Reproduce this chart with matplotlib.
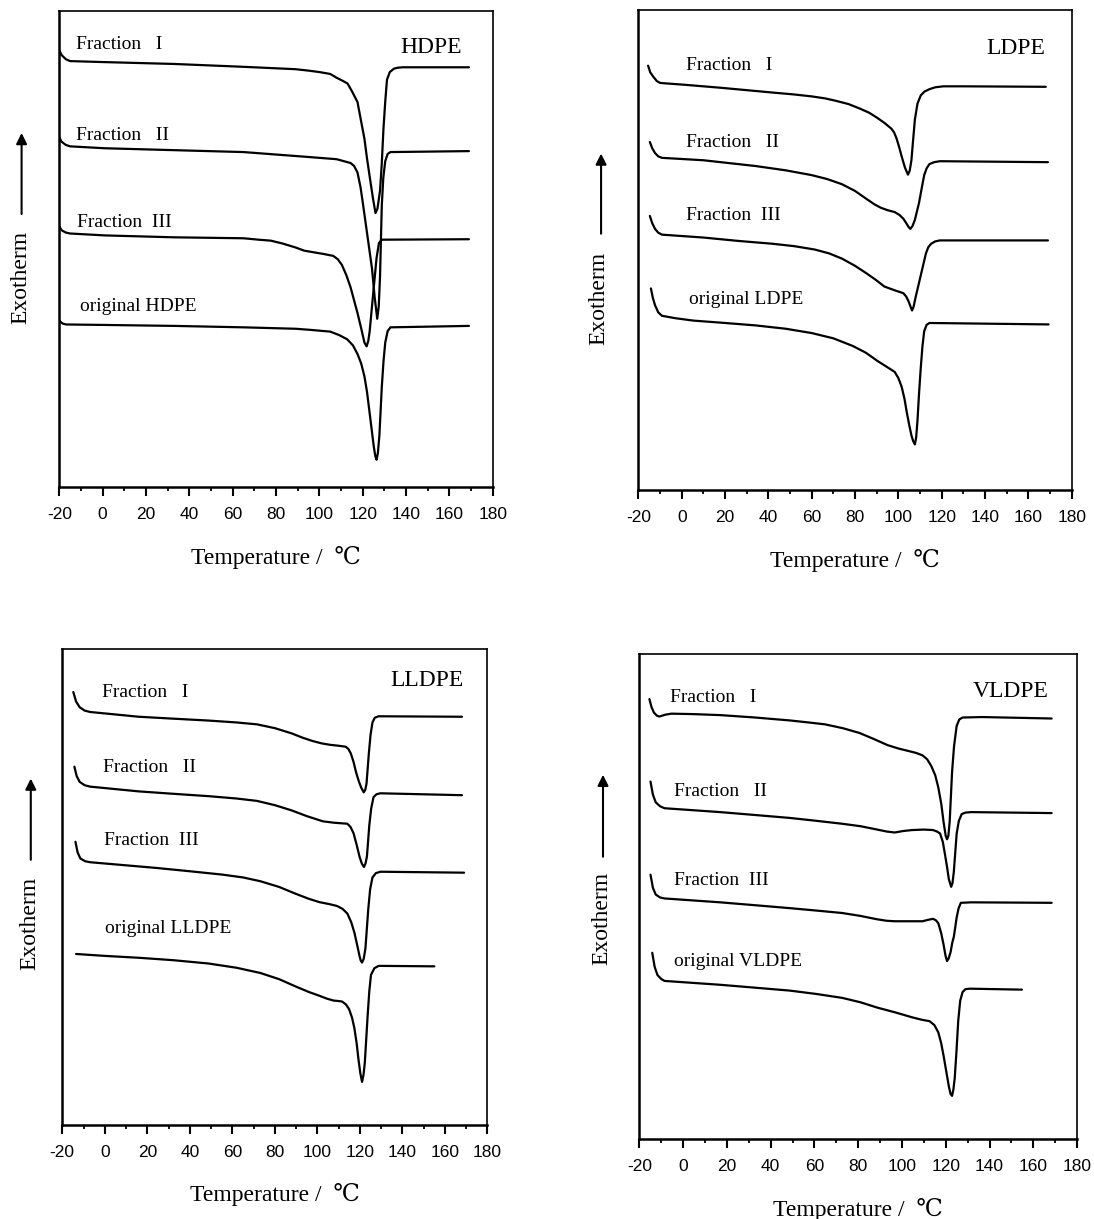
import matplotlib
matplotlib.use("Agg")
import matplotlib.pyplot as plt
from matplotlib.ticker import MultipleLocator

plt.rcParams['font.family'] = ['Liberation Serif', 'DejaVu Serif']
plt.rcParams['axes.unicode_minus'] = False

# ---- data (temperature in C, heat flow in a.u., 0-100) ----
# HDPE
hdpe_f1_t = [-20, -19, -17, -15, 0, 33, 65, 89, 95, 100, 105, 108, 111, 113, 115, 117.6, 119, 120.8, 122, 123.7,
             124.8, 125.9, 126.8, 128, 128.8, 129.6, 130.4, 131.2, 132.5, 134.4, 136, 138.4, 169]
hdpe_f1_y = [91.8, 90.8, 89.9, 89.5, 89.3, 88.9, 88.3, 87.8, 87.5, 87.2, 86.8, 86.0, 85.3, 84.8, 83.2, 80.9, 77.5, 73.2, 69.0, 63.8,
             60.5, 57.6, 58.5, 62.3, 68.0, 75.5, 81.0, 85.6, 87.2, 87.9, 88.1, 88.2, 88.2]
hdpe_f2_t = [-20, -19, -17, -15, 1, 33, 65, 94, 108, 114.4, 116, 117.6, 119, 120, 122.4, 124.3, 125.5, 126.7, 127.4,
             128, 128.8, 129.5, 130.4, 131.5, 132.8, 169]
hdpe_f2_y = [73.5, 72.6, 71.9, 71.6, 71.2, 70.8, 70.4, 69.4, 68.9, 68.1, 67.5, 66.1, 63.0, 59.9, 52.1, 45.9, 40.0, 35.4, 38.0,
             44.4, 59.1, 65.0, 68.5, 70.0, 70.4, 70.6]
hdpe_f3_t = [-20, -19, -17, -15, 1, 33, 65, 72, 77.6, 83, 88.8, 93, 96.8, 102, 106.4, 108.5, 110.4, 112.5, 114.4, 117.6,
             119.5, 120.8, 121.8, 122.6, 123.2, 124.8, 126.4, 127.5, 128.8, 169]
hdpe_f3_y = [54.9, 54.0, 53.5, 53.3, 52.9, 52.5, 52.3, 52.0, 51.8, 51.2, 50.4, 49.7, 49.4, 49.0, 48.6, 47.9, 46.7, 44.5, 42.0, 36.6,
             33.0, 30.4, 29.6, 30.8, 32.7, 40.5, 48.2, 51.3, 52.0, 52.1]
hdpe_or_t = [-20, -18.5, -16.8, 1, 33, 65, 89, 95, 100, 105, 109, 112.8, 115.5, 117.6, 119.3, 120.8, 122, 123.2, 125.1,
             125.8, 126.4, 127, 127.7, 128.8, 129.6, 130.4, 131.5, 132.8, 169]
hdpe_or_y = [35.0, 34.4, 34.2, 34.1, 33.9, 33.6, 33.3, 33.1, 32.9, 32.7, 32.0, 31.1, 29.8, 28.0, 26.0, 23.3, 20.0, 15.6, 8.6,
             6.6, 5.8, 7.2, 10.9, 21.0, 26.5, 30.4, 32.8, 33.6, 33.9]

# LDPE
ldpe_f1_t = [-15.5, -14.5, -13.1, -11.5, -9.9, 2, 18, 30, 42, 52, 60, 66, 71, 77, 82, 86.5, 90, 93.5, 96.7, 98, 99.1,
             100.3, 101.5, 103, 104.4, 105.2, 106, 106.8, 107.6, 108.8, 110.3, 112, 114.3, 117, 120.7, 130, 168]
ldpe_f1_y = [88.4, 87.0, 86.1, 85.2, 84.8, 84.4, 83.8, 83.3, 82.8, 82.4, 82.0, 81.6, 81.1, 80.4, 79.5, 78.6, 77.6, 76.5, 75.3, 74.5, 73.3,
             71.5, 69.5, 67.2, 65.7, 66.5, 68.7, 73.0, 77.2, 80.5, 82.2, 83.0, 83.5, 83.9, 84.1, 84.1, 84.0]
ldpe_f2_t = [-14.7, -13.6, -12.3, -10.8, -9.1, 10, 22, 34, 48, 60, 67, 74, 80, 85.4, 89, 91.9, 95, 98.3, 100.5, 102.3,
             103.6, 104.7, 105.5, 106.5, 107.6, 109.5, 110.8, 111.9, 113, 114.3, 116.5, 119.1, 169]
ldpe_f2_y = [72.5, 71.2, 70.2, 69.5, 69.2, 68.7, 68.1, 67.5, 66.6, 65.6, 64.8, 63.7, 62.3, 60.6, 59.5, 58.8, 58.3, 57.9, 57.3, 56.5,
             55.6, 54.8, 54.4, 55.0, 56.3, 59.8, 63.0, 65.6, 67.0, 67.9, 68.3, 68.5, 68.3]
ldpe_f3_t = [-14.7, -13.6, -12.3, -10.8, -9.1, 10, 26, 42, 52, 61.4, 68, 74, 80, 85.4, 89.5, 93.5, 96.5, 99, 101, 102.3,
             103.6, 104.7, 105.6, 106.3, 107, 107.9, 110.3, 112.7, 113.8, 115.1, 117, 119.1, 169]
ldpe_f3_y = [57.1, 55.6, 54.4, 53.6, 53.2, 52.6, 51.9, 51.3, 50.8, 50.1, 49.3, 48.2, 46.7, 45.1, 43.8, 42.4, 41.9, 41.5, 41.2, 41.0,
             40.3, 39.3, 38.2, 37.4, 38.2, 40.1, 44.7, 49.3, 50.6, 51.3, 51.8, 52.0, 52.0]
ldpe_or_t = [-14.2, -13.3, -12.3, -10.8, -9.1, -3, 5.3, 20, 34, 48, 60, 70, 79, 85, 90.3, 94.5, 98.3, 100, 101.5, 102.8,
             103.9, 105, 106, 106.8, 107.6, 108.2, 108.8, 109.5, 110.3, 111.1, 111.9, 113, 114.3, 169.3]
ldpe_or_y = [42.0, 40.0, 38.5, 37.0, 36.3, 35.8, 35.3, 34.8, 34.3, 33.6, 32.7, 31.6, 30.0, 28.6, 26.9, 25.7, 24.6, 23.3, 21.5, 19.0,
             16.1, 13.5, 11.4, 10.2, 9.5, 11.0, 14.5, 20.0, 25.4, 30.0, 33.1, 34.4, 34.8, 34.5]

# LLDPE
lldpe_f1_t = [-14.8, -13.5, -11.8, -9.5, -6.9, 16, 32, 48.7, 62, 71.6, 80, 87.9, 93, 97.7, 102, 105.9, 110, 113.3, 114.6,
              115.7, 117, 118.2, 119.5, 120.6, 121.8, 122.5, 123.1, 124.2, 125, 125.9, 127, 128.8, 168]
lldpe_f1_y = [91.0, 89.0, 87.8, 87.1, 86.8, 85.8, 85.4, 85.0, 84.6, 84.2, 83.4, 82.3, 81.4, 80.7, 80.2, 79.9, 79.7, 79.5, 79.0,
              78.1, 76.3, 74.1, 72.2, 70.9, 69.9, 70.4, 71.7, 78.1, 82.0, 84.6, 85.6, 85.9, 85.8]
lldpe_f2_t = [-14.3, -13.2, -11.8, -9.5, -6.9, 16, 32, 48.7, 62, 71.6, 80, 87.9, 95, 102.6, 108, 114.1, 115.6, 117, 118.5,
              119.8, 120.9, 121.9, 122.6, 123.3, 124.4, 125.3, 126.4, 127.8, 129.6, 168]
lldpe_f2_y = [75.3, 73.3, 72.1, 71.4, 71.1, 70.1, 69.6, 69.1, 68.6, 68.1, 67.2, 66.1, 64.9, 63.8, 63.5, 63.3, 62.6, 61.3, 58.8,
              56.4, 54.9, 54.2, 54.9, 56.4, 62.9, 66.5, 68.9, 69.5, 69.7, 69.3]
lldpe_f3_t = [-13.8, -12.8, -11.5, -9.2, -6.9, 24.2, 40, 55.2, 65, 73.2, 82, 89.6, 96, 101, 105.5, 109.2, 111.8, 114.1,
              115.9, 117.4, 118.7, 119.8, 120.4, 121, 121.8, 122.6, 123.9, 124.8, 125.9, 127.5, 129.6, 169]
lldpe_f3_y = [59.5, 57.3, 56.0, 55.4, 55.2, 54.0, 53.3, 52.6, 52.0, 51.2, 50.0, 48.6, 47.5, 46.8, 46.4, 46.0, 45.4, 44.4,
              42.6, 40.4, 37.8, 35.5, 34.5, 34.1, 34.9, 37.1, 45.2, 49.5, 52.0, 52.9, 53.2, 53.0]
lldpe_or_t = [-13.5, 0, 16, 32, 48.7, 62, 73.2, 82, 89.6, 96, 101, 104.5, 107.6, 110, 111.6, 113.4, 114.9, 116.3, 117.4,
              118.5, 119.3, 120.2, 121, 121.7, 122.3, 123.6, 124.4, 125.2, 126.8, 128.8, 155]
lldpe_or_y = [35.9, 35.5, 35.1, 34.6, 33.9, 33.0, 31.9, 30.6, 29.1, 27.9, 27.1, 26.5, 26.1, 26.0, 25.9, 25.3, 24.3, 22.5, 20.3,
              17.0, 13.8, 10.8, 9.0, 10.5, 13.0, 22.7, 28.0, 31.5, 32.9, 33.4, 33.3]

# VLDPE
vldpe_f1_t = [-15.4, -14.4, -13.3, -12, -10.9, -8, -5.3, 5, 17, 33, 48.8, 57, 64.8, 73, 80.7, 87, 93.5, 98.5, 103, 106.5,
              109.4, 111.5, 113.4, 115.2, 116.6, 118, 119, 120, 120.6, 121.2, 121.8, 122.9, 123.8, 125, 126.2, 127.7, 136.5, 168.4]
vldpe_f1_y = [90.7, 89.0, 87.9, 87.3, 87.1, 87.5, 87.7, 87.6, 87.4, 86.9, 86.3, 85.9, 85.5, 84.7, 83.7, 82.5, 81.2, 80.5, 80.0, 79.6,
              79.1, 78.3, 76.9, 75.0, 72.5, 69.0, 65.4, 62.5, 61.8, 62.5, 65.4, 75.7, 81.0, 85.2, 86.5, 86.9, 87.0, 86.7]
vldpe_f2_t = [-14.9, -13.8, -12.5, -10.5, -8.5, 17, 33, 48.8, 61, 72.7, 81, 88.7, 93, 96.7, 100.5, 104.6, 110, 114.2, 116,
              117.4, 118.7, 119.8, 120.7, 121.4, 122.5, 123.1, 123.7, 125, 126, 127.3, 129, 131.7, 168.4]
vldpe_f2_y = [73.7, 71.0, 69.4, 68.6, 68.2, 67.4, 66.8, 66.2, 65.6, 65.0, 64.5, 63.8, 63.4, 63.2, 63.5, 63.7, 63.8, 63.7, 63.4,
              63.0, 61.2, 58.3, 55.8, 53.6, 52.0, 52.8, 55.1, 63.0, 65.6, 67.0, 67.3, 67.4, 67.2]
vldpe_f3_t = [-14.9, -13.8, -12.5, -10.5, -8.5, 17, 33, 48.8, 61, 72.7, 81, 88.7, 93, 96.7, 103, 109.4, 112, 114.2, 115.5,
              116.6, 117.9, 119, 119.9, 120.6, 121.3, 122.2, 123, 123.7, 124.3, 125, 125.9, 126.9, 131.7, 168.4]
vldpe_f3_y = [54.5, 51.8, 50.4, 49.8, 49.6, 48.8, 48.2, 47.6, 47.1, 46.6, 46.0, 45.3, 45.0, 44.9, 44.9, 44.9, 45.2, 45.4, 45.1,
              44.5, 42.5, 40.1, 37.8, 36.7, 37.2, 38.5, 40.5, 41.7, 43.5, 45.7, 47.6, 48.7, 48.8, 48.7]
vldpe_or_t = [-14.1, -13, -11.7, -10, -8.5, 17, 33, 48.8, 61, 72.7, 81, 88.7, 97, 104.6, 109, 112.6, 114.8, 116.6, 117.9,
              119, 120.3, 121.4, 122.2, 122.9, 123.5, 124.1, 124.9, 125.7, 126.6, 127.7, 129, 130.9, 154.8]
vldpe_or_y = [38.4, 35.5, 33.8, 33.0, 32.6, 31.8, 31.2, 30.6, 29.9, 29.1, 28.2, 27.1, 26.1, 25.1, 24.6, 24.3, 23.5, 22.0, 19.8,
              17.2, 13.8, 10.9, 9.3, 8.9, 10.2, 12.5, 18.0, 24.3, 28.5, 30.3, 30.9, 31.0, 30.8]

fraction_names = ["Fraction   I", "Fraction   II", "Fraction  III"]
xticks = list(range(-20, 181, 20))
xticklabels = [str(v) for v in xticks]

# caption anchor positions (x in C, y in a.u.)
hdpe_lab = [(-12.3, 93.0), (-12.3, 73.8), (-11.6, 55.7), (-10.3, 38.0)]
ldpe_lab = [(1.8, 88.4), (1.8, 72.3), (2.1, 57.1), (3.4, 39.7)]
lldpe_lab = [(-1.2, 91.0), (-0.9, 75.1), (-0.4, 59.8), (0.0, 41.2)]
vldpe_lab = [(-6.1, 91.1), (-4.1, 71.6), (-4.1, 53.2), (-4.1, 36.6)]

panels = [
    dict(name="HDPE", rect=[0.0542, 0.6002, 0.3962, 0.3907],
         curves=[(hdpe_f1_t, hdpe_f1_y), (hdpe_f2_t, hdpe_f2_y), (hdpe_f3_t, hdpe_f3_y), (hdpe_or_t, hdpe_or_y)],
         labels=hdpe_lab, title_pos=(165.8, 92.3),
         arrow_x=-0.087, arrow=(0.744, 0.574), ylab=(-0.088, 0.4415)),
    dict(name="LDPE", rect=[0.5835, 0.598, 0.3962, 0.3938],
         curves=[(ldpe_f1_t, ldpe_f1_y), (ldpe_f2_t, ldpe_f2_y), (ldpe_f3_t, ldpe_f3_y), (ldpe_or_t, ldpe_or_y)],
         labels=ldpe_lab, title_pos=(167.7, 91.9),
         arrow_x=-0.086, arrow=(0.701, 0.534), ylab=(-0.09, 0.40)),
    dict(name="LLDPE", rect=[0.0569, 0.0774, 0.3887, 0.39],
         curves=[(lldpe_f1_t, lldpe_f1_y), (lldpe_f2_t, lldpe_f2_y), (lldpe_f3_t, lldpe_f3_y), (lldpe_or_t, lldpe_or_y)],
         labels=lldpe_lab, title_pos=(169.0, 93.5),
         arrow_x=-0.074, arrow=(0.728, 0.557), ylab=(-0.077, 0.424)),
    dict(name="VLDPE", rect=[0.5844, 0.0656, 0.4001, 0.3979],
         curves=[(vldpe_f1_t, vldpe_f1_y), (vldpe_f2_t, vldpe_f2_y), (vldpe_f3_t, vldpe_f3_y), (vldpe_or_t, vldpe_or_y)],
         labels=vldpe_lab, title_pos=(167.2, 92.2),
         arrow_x=-0.083, arrow=(0.751, 0.582), ylab=(-0.085, 0.454)),
]

fig = plt.figure(figsize=(10.94, 12.19), dpi=100)

for p in panels:
    ax = fig.add_axes(p["rect"])
    for t, y in p["curves"]:
        ax.plot(t, y, color="black", lw=1.6, solid_joinstyle="round", solid_capstyle="round")

    names = fraction_names + ["original " + p["name"]]
    for (lx, ly), txt in zip(p["labels"], names):
        ax.text(lx, ly, txt, fontsize=14, ha="left", va="center")
    ax.text(p["title_pos"][0], p["title_pos"][1], p["name"], fontsize=17,
            ha="right", va="center")

    ax.set_xlim(-20, 180)
    ax.set_ylim(0, 100)
    ax.set_yticks([])
    ax.set_xticks(xticks)
    ax.set_xticklabels(xticklabels, fontfamily="Liberation Sans", fontsize=12.5)
    ax.xaxis.set_minor_locator(MultipleLocator(10))
    ax.tick_params(axis="x", which="major", direction="out", length=6.5, width=1.5, pad=8)
    ax.tick_params(axis="x", which="minor", direction="out", length=3, width=1.3)
    for side in ["left", "bottom"]:
        ax.spines[side].set_linewidth(1.8)
    for side in ["top", "right"]:
        ax.spines[side].set_linewidth(1.2)

    ax.set_xlabel("Temperature /  \u2103", fontsize=17, labelpad=17,
                  fontfamily=["Liberation Serif", "DejaVu Serif", "Noto Sans CJK SC"])

    # "Exotherm" with an upward arrow
    ax.text(p["ylab"][0], p["ylab"][1], "Exotherm", fontsize=17, rotation=90,
            ha="center", va="center", transform=ax.transAxes)
    ax.annotate("", xy=(p["arrow_x"], p["arrow"][0]), xytext=(p["arrow_x"], p["arrow"][1]),
                xycoords="axes fraction", textcoords="axes fraction",
                arrowprops=dict(arrowstyle="-|>", color="black", lw=1.5,
                                mutation_scale=16, shrinkA=0, shrinkB=0),
                annotation_clip=False)

fig.savefig("out.png", dpi=100)
